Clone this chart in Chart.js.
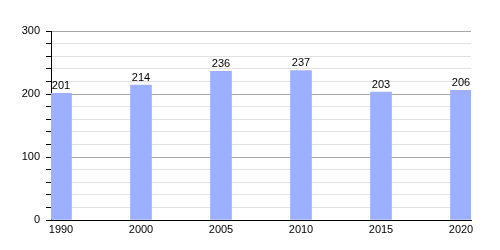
<!DOCTYPE html>
<html><head><meta charset="utf-8">
<script src="https://cdn.jsdelivr.net/npm/chart.js@4/dist/chart.umd.min.js"></script>
<style>html,body{margin:0;padding:0;background:#fff}#wrap{width:500px;height:250px}</style>
</head><body><div id="wrap"><canvas id="c" width="500" height="250"></canvas></div>
<script>
const categories = ["1990", "2000", "2005", "2010", "2015", "2020"];
const values = [201, 214, 236, 237, 203, 206];
const yTickLabels = [0, 100, 200, 300];

const labelPlugin = {
  id: 'vals',
  afterDatasetsDraw(chart) {
    const ctx = chart.ctx;
    const meta = chart.getDatasetMeta(0);
    ctx.save();
    ctx.font = '11px "Liberation Sans", Arial, sans-serif';
    ctx.fillStyle = '#000';
    ctx.textAlign = 'center';
    ctx.textBaseline = 'bottom';
    meta.data.forEach((el, i) => {
      ctx.fillText(String(values[i]), el.x, el.y - 2);
    });
    ctx.restore();
  }
};

new Chart(document.getElementById('c'), {
  type: 'bar',
  data: {
    datasets: [{
      data: values.map((v, i) => ({x: i, y: v})),
      backgroundColor: '#9cb0ff',
      borderWidth: 0,
      barThickness: 21
    }]
  },
  options: {
    responsive: false,
    animation: false,
    devicePixelRatio: 1,
    layout: {padding: {top: 31, right: 29, left: 0, bottom: 0}},
    plugins: {legend: {display: false}, tooltip: {enabled: false}},
    font: {family: '"Liberation Sans", Arial, sans-serif'},
    scales: {
      x: {
        type: 'linear',
        offset: false,
        min: -0.125,
        max: 5.125,
        afterBuildTicks: s => { s.ticks = categories.map((c, i) => ({value: i})); },
        afterFit: s => { s.height = 30; },
        grid: {display: false, drawTicks: false, offset: false},
        border: {display: true, color: '#000', width: 1},
        ticks: {
          padding: 3,
          color: '#000',
          font: {size: 11, family: '"Liberation Sans", Arial, sans-serif'},
          maxRotation: 0,
          autoSkip: false,
          callback: v => categories[v]
        }
      },
      y: {
        min: 0,
        max: 300,
        afterFit: s => { s.width = 51; },
        ticks: {
          stepSize: 20,
          padding: 6,
          color: '#000',
          font: {size: 11, family: '"Liberation Sans", Arial, sans-serif'},
          autoSkip: false,
          callback: v => yTickLabels.includes(v) ? String(v) : ''
        },
        grid: {
          color: c => (c.tick && c.tick.value % 100 === 0) ? '#a8a8a8' : '#e2e2e2',
          tickColor: '#000',
          tickLength: 5
        },
        border: {display: true, color: '#000', width: 1}
      }
    }
  },
  plugins: [labelPlugin]
});
</script></body></html>
